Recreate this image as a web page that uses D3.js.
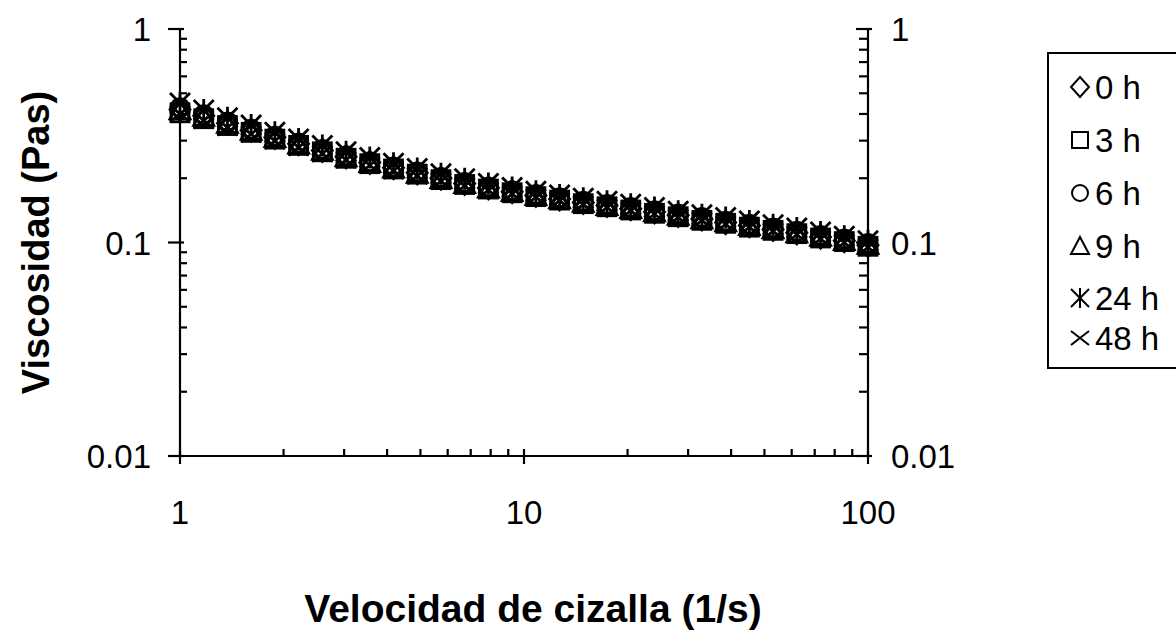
<!DOCTYPE html>
<html><head><meta charset="utf-8">
<script src="https://cdn.jsdelivr.net/npm/d3@7"></script>
<style>body{margin:0;background:#fff}svg{display:block}text{font-family:"Liberation Sans",Arial,sans-serif}</style>
</head><body>
<svg id="c" width="1176" height="633"></svg>
<script>
const shearRate = [1.000,1.172,1.374,1.610,1.887,2.212,2.593,3.039,3.562,4.175,4.894,5.736,6.723,7.880,9.237,10.83,12.69,14.87,17.43,20.43,23.95,28.07,32.90,38.57,45.20,52.98,62.10,72.79,85.32,100.0];
const seriesNames = ["0 h","3 h","6 h","9 h","24 h","48 h"];
const v0h  = [0.420,0.392,0.362,0.336,0.311,0.290,0.270,0.252,0.237,0.224,0.212,0.200,0.189,0.180,0.173,0.166,0.160,0.154,0.149,0.144,0.139,0.134,0.129,0.124,0.120,0.115,0.111,0.106,0.102,0.097];
const v3h  = [0.405,0.380,0.353,0.328,0.305,0.285,0.266,0.248,0.234,0.221,0.209,0.197,0.187,0.178,0.171,0.164,0.158,0.152,0.147,0.142,0.137,0.132,0.127,0.123,0.118,0.114,0.110,0.105,0.101,0.096];
const v6h  = [0.428,0.397,0.367,0.340,0.315,0.293,0.273,0.255,0.239,0.226,0.214,0.202,0.191,0.182,0.175,0.168,0.162,0.156,0.151,0.146,0.141,0.136,0.131,0.126,0.122,0.117,0.113,0.108,0.104,0.099];
const v9h  = [0.418,0.390,0.361,0.335,0.310,0.289,0.270,0.252,0.237,0.223,0.211,0.199,0.189,0.180,0.173,0.166,0.160,0.154,0.149,0.144,0.139,0.134,0.129,0.125,0.120,0.116,0.111,0.107,0.102,0.098];
const v24h = [0.450,0.417,0.384,0.355,0.328,0.305,0.285,0.266,0.250,0.235,0.222,0.210,0.199,0.189,0.181,0.174,0.167,0.161,0.156,0.151,0.146,0.140,0.135,0.131,0.126,0.121,0.117,0.112,0.107,0.102];
const v48h = [0.400,0.373,0.346,0.322,0.299,0.279,0.261,0.244,0.230,0.217,0.205,0.194,0.184,0.176,0.169,0.163,0.157,0.151,0.146,0.141,0.136,0.131,0.127,0.122,0.118,0.113,0.109,0.104,0.100,0.095];
const seriesValues = [v0h,v3h,v6h,v9h,v24h,v48h];
const markerTypes = ["diamond","square","circle","triangle","asterisk","cross"];
const xTickLabels = ["1","10","100"];
const yTickLabels = ["0.01","0.1","1"];

const svg = d3.select("#c");
const L=180,R=868,T=29,B=456;
const x = d3.scaleLog().domain([1,100]).range([L,R]);
const y = d3.scaleLog().domain([0.01,1]).range([B,T]);

function minorTicks(lo,hi){const a=[];for(let d=lo;d<hi;d*=10)for(let k=2;k<=9;k++)a.push(d*k);return a;}
const xMajor=[1,10,100], yMajor=[0.01,0.1,1];
const g=svg.append("g").attr("stroke","#000").attr("stroke-width",2.2);
g.append("line").attr("x1",L).attr("x2",R).attr("y1",B).attr("y2",B);
g.append("line").attr("x1",L).attr("x2",L).attr("y1",T).attr("y2",B);
g.append("line").attr("x1",R).attr("x2",R).attr("y1",T).attr("y2",B);
xMajor.forEach(v=>g.append("line").attr("x1",x(v)).attr("x2",x(v)).attr("y1",B-7).attr("y2",B+8));
minorTicks(1,100).forEach(v=>g.append("line").attr("x1",x(v)).attr("x2",x(v)).attr("y1",B-7).attr("y2",B));
yMajor.forEach(v=>g.append("line").attr("x1",L-12).attr("x2",L+4).attr("y1",y(v)).attr("y2",y(v)));
minorTicks(0.01,1).forEach(v=>g.append("line").attr("x1",L).attr("x2",L+7).attr("y1",y(v)).attr("y2",y(v)));
yMajor.forEach(v=>g.append("line").attr("x1",R-12).attr("x2",R+4).attr("y1",y(v)).attr("y2",y(v)));
minorTicks(0.01,1).forEach(v=>g.append("line").attr("x1",R-9).attr("x2",R).attr("y1",y(v)).attr("y2",y(v)));

const fs=33;
xMajor.forEach((v,i)=>svg.append("text").attr("x",x(v)).attr("y",524).attr("text-anchor","middle").attr("font-size",fs).text(xTickLabels[i]));
yMajor.forEach((v,i)=>{
  svg.append("text").attr("x",L-29).attr("y",y(v)+12).attr("text-anchor","end").attr("font-size",fs).text(yTickLabels[i]);
  svg.append("text").attr("x",R+23).attr("y",y(v)+12).attr("text-anchor","start").attr("font-size",fs).text(yTickLabels[i]);
});
svg.append("text").attr("x",(L+R)/2+9).attr("y",622).attr("text-anchor","middle").attr("font-size",39).attr("font-weight","bold").text("Velocidad de cizalla (1/s)");
svg.append("text").attr("transform",`translate(49,${(T+B)/2}) rotate(-90)`).attr("text-anchor","middle").attr("font-size",38).attr("font-weight","bold").text("Viscosidad (Pas)");

function marker(sel,type,s){
  const h=s/2;
  if(type==="diamond") sel.append("path").attr("d",`M0,${-h-1}L${h},0L0,${h+1}L${-h},0Z`);
  else if(type==="square") sel.append("rect").attr("x",-h+1).attr("y",-h+1).attr("width",s-2).attr("height",s-2);
  else if(type==="circle") sel.append("circle").attr("r",h-1);
  else if(type==="triangle") sel.append("path").attr("d",`M0,${-h}L${h},${h-1}L${-h},${h-1}Z`);
  else if(type==="asterisk") sel.append("path").attr("d",`M0,${-h-1}V${h+1}M${-h},${-h}L${h},${h}M${h},${-h}L${-h},${h}`);
  else if(type==="cross") sel.append("path").attr("d",`M${-h},${-h+2}L${h},${h-2}M${h},${-h+2}L${-h},${h-2}`);
}
const plot=svg.append("g").attr("fill","none").attr("stroke","#000").attr("stroke-width",2.8);
seriesValues.forEach((vals,si)=>{
  vals.forEach((v,i)=>{
    const m=plot.append("g").attr("transform",`translate(${x(shearRate[i])},${y(v)})`);
    marker(m,markerTypes[si],20);
  });
});

const lg=svg.append("g");
lg.append("rect").attr("x",1048).attr("y",53).attr("width",140).attr("height",315).attr("fill","#fff").attr("stroke","#000").attr("stroke-width",2);
const legY=[87,140,193,246,298,338];
seriesNames.forEach((n,i)=>{
  const m=lg.append("g").attr("transform",`translate(1080,${legY[i]})`).attr("fill","none").attr("stroke","#000").attr("stroke-width",2);
  marker(m,markerTypes[i],18);
  lg.append("text").attr("x",1095).attr("y",legY[i]+12).attr("font-size",fs).text(n);
});
</script>
</body></html>
